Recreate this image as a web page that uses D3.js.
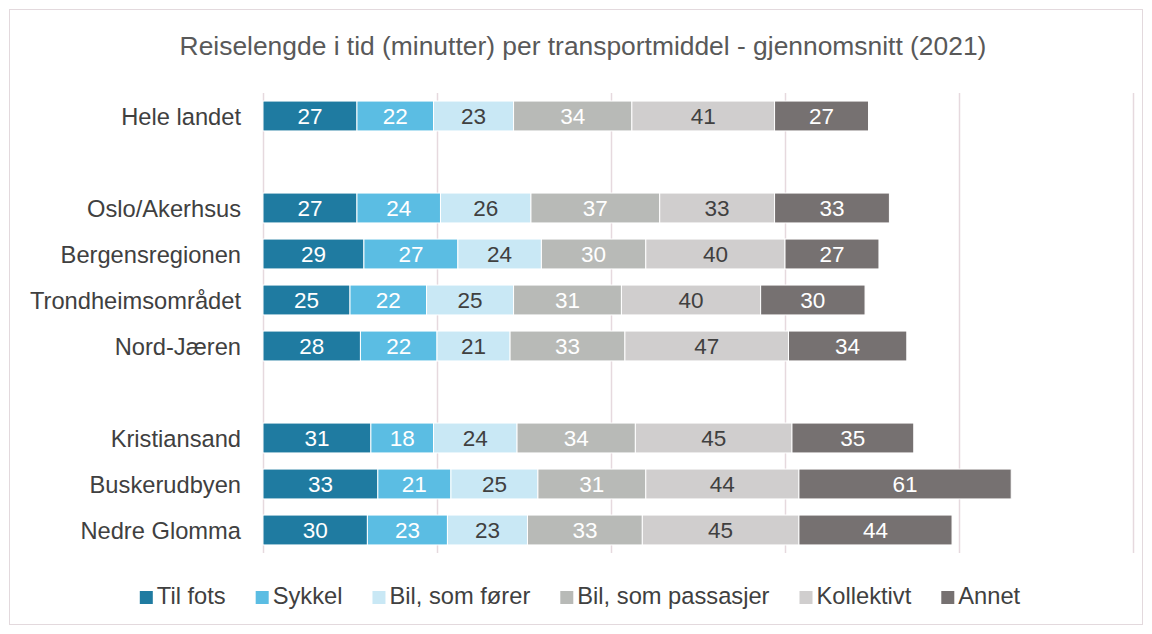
<!DOCTYPE html>
<html>
<head>
<meta charset="utf-8">
<script src="https://cdn.jsdelivr.net/npm/d3@7"></script>
<style>
  body { margin: 0; background: #fff; }
  svg { font-family: "Liberation Sans", Arial, sans-serif; }
</style>
</head>
<body>
<div id="chart"></div>
<script>
// rows, with empty slots for the gaps between groups
const regions = ["Hele landet", "_gap1", "Oslo/Akerhsus", "Bergensregionen", "Trondheimsområdet",
  "Nord-Jæren", "_gap2", "Kristiansand", "Buskerudbyen", "Nedre Glomma"];
const modes = ["Til fots", "Sykkel", "Bil, som fører", "Bil, som passasjer", "Kollektivt", "Annet"];
const tilFots = [27, null, 27, 29, 25, 28, null, 31, 33, 30];
const sykkel = [22, null, 24, 27, 22, 22, null, 18, 21, 23];
const bilForer = [23, null, 26, 24, 25, 21, null, 24, 25, 23];
const bilPassasjer = [34, null, 37, 30, 31, 33, null, 34, 31, 33];
const kollektivt = [41, null, 33, 40, 40, 47, null, 45, 44, 45];
const annet = [27, null, 33, 27, 30, 34, null, 35, 61, 44];
const xTicks = [0, 50, 100, 150, 200, 250];

const colors = ["#1f7ba1", "#5bbde3", "#c9e8f5", "#b8bab7", "#d0cece", "#767171"];
const labelColors = ["#fff", "#fff", "#404040", "#fff", "#404040", "#fff"];

const W = 1152, H = 634;
const svg = d3.select("#chart").append("svg").attr("width", W).attr("height", H);

// outer frame
svg.append("rect")
  .attr("x", 9.5).attr("y", 9.5).attr("width", 1133).attr("height", 615)
  .attr("fill", "#fff").attr("stroke", "#e3d9dd").attr("stroke-width", 1);

svg.append("text")
  .attr("x", 583).attr("y", 55)
  .attr("text-anchor", "middle")
  .style("font-size", "26.4px").style("fill", "#595959")
  .text("Reiselengde i tid (minutter) per transportmiddel - gjennomsnitt (2021)");

const x = d3.scaleLinear().domain([0, 250]).range([263, 1133]);
const y = d3.scaleBand().domain(regions).range([93, 553]).paddingInner(0.35).paddingOuter(0.175);

// gridlines
svg.append("g").selectAll("line")
  .data(xTicks)
  .join("line")
  .attr("x1", d => Math.round(x(d)) + 0.5).attr("x2", d => Math.round(x(d)) + 0.5)
  .attr("y1", 93).attr("y2", 553)
  .attr("stroke", "#e6d9de").attr("stroke-width", 1.5);

const series = [tilFots, sykkel, bilForer, bilPassasjer, kollektivt, annet];
const rows = regions.map((r, i) => {
  const o = { region: r };
  modes.forEach((m, j) => o[m] = series[j][i] || 0);
  return o;
}).filter(d => !d.region.startsWith("_"));

const stacked = d3.stack().keys(modes)(rows);

const layer = svg.append("g").selectAll("g")
  .data(stacked)
  .join("g");

layer.selectAll("rect")
  .data(d => d)
  .join("rect")
  .attr("x", d => x(d[0]))
  .attr("y", d => y(d.data.region))
  .attr("width", d => x(d[1]) - x(d[0]))
  .attr("height", y.bandwidth())
  .attr("fill", function () { return colors[modes.indexOf(d3.select(this.parentNode).datum().key)]; })
  .attr("stroke", "#fff").attr("stroke-width", 1);

layer.selectAll("text")
  .data(d => d.map(v => ({ v, key: d.key })))
  .join("text")
  .attr("x", d => (x(d.v[0]) + x(d.v[1])) / 2)
  .attr("y", d => y(d.v.data.region) + y.bandwidth() / 2)
  .attr("dy", "0.37em")
  .attr("text-anchor", "middle")
  .style("font-size", "22.5px")
  .style("fill", d => labelColors[modes.indexOf(d.key)])
  .text(d => d.v.data[d.key]);

// category labels
svg.append("g").selectAll("text")
  .data(rows)
  .join("text")
  .attr("x", 241)
  .attr("y", d => y(d.region) + y.bandwidth() / 2)
  .attr("dy", "0.36em")
  .attr("text-anchor", "end")
  .style("font-size", "23.7px").style("fill", "#404040")
  .text(d => d.region);

// legend
const legend = svg.append("g");
let lx = 0;
modes.forEach((m, i) => {
  const g = legend.append("g").attr("transform", `translate(${lx},0)`);
  g.append("rect").attr("x", 0).attr("y", -13).attr("width", 13).attr("height", 13).attr("fill", colors[i]);
  const t = g.append("text").attr("x", 17)
    .style("font-size", "23.7px").style("fill", "#404040").text(m);
  lx += 17 + t.node().getComputedTextLength() + 30;
});
lx -= 30;
legend.attr("transform", `translate(${580 - lx / 2},604)`);
</script>
</body>
</html>
